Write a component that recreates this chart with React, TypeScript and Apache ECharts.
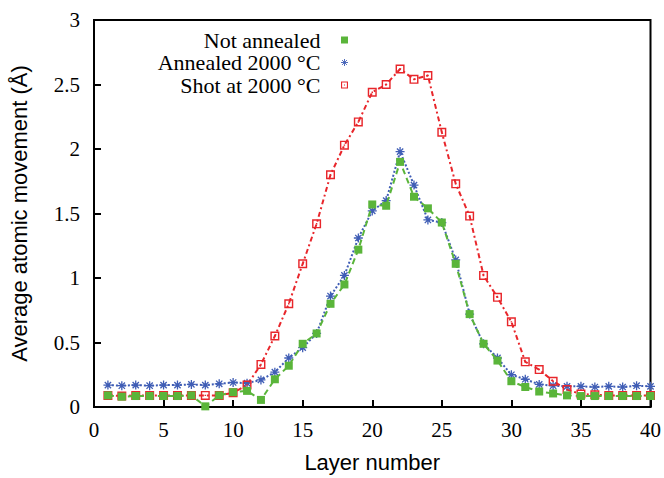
import React, { useEffect, useRef } from "react";
import * as echarts from "echarts";

const layers = Array.from({ length: 40 }, (_, i) => i + 1);
const notAnnealed = [
  0.09, 0.08, 0.085, 0.085, 0.085, 0.085, 0.09, 0.005, 0.09, 0.115,
  0.125, 0.055, 0.215, 0.32, 0.49, 0.57, 0.8, 0.95, 1.22, 1.57,
  1.56, 1.9, 1.63, 1.54, 1.43, 1.11, 0.72, 0.49, 0.36, 0.2,
  0.155, 0.12, 0.105, 0.09, 0.085, 0.085, 0.085, 0.085, 0.085, 0.085,
];
const annealed = [
  0.17, 0.165, 0.17, 0.165, 0.17, 0.17, 0.175, 0.17, 0.18, 0.19,
  0.185, 0.21, 0.27, 0.38, 0.46, 0.57, 0.86, 1.02, 1.31, 1.52,
  1.6, 1.98, 1.72, 1.45, 1.43, 1.14, 0.72, 0.49, 0.38, 0.25,
  0.215, 0.175, 0.165, 0.16, 0.16, 0.155, 0.16, 0.155, 0.165, 0.16,
];
const shot = [
  0.09, 0.085, 0.09, 0.09, 0.09, 0.09, 0.09, 0.09, 0.09, 0.11,
  0.17, 0.33, 0.55, 0.8, 1.11, 1.42, 1.8, 2.03, 2.21, 2.44,
  2.5, 2.62, 2.54, 2.57, 2.13, 1.73, 1.48, 1.02, 0.85, 0.66,
  0.35, 0.29, 0.2, 0.135, 0.1, 0.095, 0.09, 0.09, 0.09, 0.09,
];
const seriesNames = ["Not annealed", "Annealed 2000 °C", "Shot at 2000 °C"];

const GREEN = "#5ab53a";
const BLUE = "#3f5db5";
const RED = "#e8262b";

const ASTERISK =
  "path://M0,5L10,5M5,0L5,10M1.5,1.5L8.5,8.5M8.5,1.5L1.5,8.5";
const OPEN_SQ =
  "path://M0,0L10,0L10,10L0,10Z M1.6,1.6L1.6,8.4L8.4,8.4L8.4,1.6Z M4.2,4.2L5.8,4.2L5.8,5.8L4.2,5.8Z";

export default function App() {
  const ref = useRef<HTMLDivElement>(null);
  useEffect(() => {
    if (!ref.current) return;
    const chart = echarts.init(ref.current, null, { renderer: "svg" });
    const pts = (arr: number[]) => layers.map((l, i) => [l, arr[i]]);
    chart.setOption({
      animation: false,
      backgroundColor: "#fff",
      grid: {
        left: 94,
        right: 13,
        top: 20,
        bottom: 70,
        show: true,
        borderColor: "#000",
        borderWidth: 2,
      },
      legend: {
        orient: "vertical",
        align: "right",
        right: 313.5,
        top: 29,
        padding: 0,
        itemWidth: 7,
        itemHeight: 7,
        itemGap: 0.5,
        textStyle: {
          fontFamily: "Liberation Serif",
          fontSize: 22,
          fontWeight: "normal",
          color: "#000",
          lineHeight: 22,
          padding: [0, 15.5, 0, 0],
        },
        data: [
          { name: seriesNames[0], icon: "rect" },
          {
            name: seriesNames[1],
            icon: ASTERISK,
            itemStyle: { color: "none", borderColor: BLUE, borderWidth: 0.9 },
          },
          { name: seriesNames[2], icon: OPEN_SQ },
        ],
      },
      xAxis: {
        type: "value",
        min: 0,
        max: 40,
        interval: 5,
        name: "Layer number",
        nameLocation: "middle",
        nameGap: 44,
        nameTextStyle: { fontFamily: "Liberation Sans", fontSize: 22, color: "#000" },
        axisLine: { show: true, lineStyle: { color: "#000", width: 2 } },
        axisTick: { show: true, inside: true, length: 7, lineStyle: { color: "#000", width: 2 } },
        axisLabel: { fontFamily: "Liberation Serif", fontSize: 21, color: "#000", margin: 12 },
        splitLine: { show: false },
      },
      yAxis: {
        type: "value",
        min: 0,
        max: 3,
        interval: 0.5,
        name: "Average atomic movement (Å)",
        nameLocation: "middle",
        nameGap: 64,
        nameTextStyle: { fontFamily: "Liberation Sans", fontSize: 22, color: "#000" },
        axisLine: { show: true, lineStyle: { color: "#000", width: 2 } },
        axisTick: { show: true, inside: true, length: 7, lineStyle: { color: "#000", width: 2 } },
        axisLabel: { fontFamily: "Liberation Serif", fontSize: 21, color: "#000", margin: 14 },
        splitLine: { show: false },
      },
      series: [
        {
          name: seriesNames[0],
          type: "line",
          data: pts(notAnnealed),
          symbol: "rect",
          symbolSize: 8,
          itemStyle: { color: GREEN },
          lineStyle: { color: GREEN, width: 2, type: [6, 4] },
          z: 3,
        },
        {
          name: seriesNames[1],
          type: "line",
          data: pts(annealed),
          symbol: ASTERISK,
          symbolSize: 9,
          itemStyle: { color: BLUE, borderColor: BLUE, borderWidth: 1.3 },
          lineStyle: { color: BLUE, width: 2, type: [2, 2] },
          z: 2,
        },
        {
          name: seriesNames[2],
          type: "line",
          data: pts(shot),
          symbol: OPEN_SQ,
          symbolSize: 9,
          itemStyle: { color: RED },
          lineStyle: { color: RED, width: 2, type: [5, 3, 2, 3] },
          z: 2,
        },
      ],
    });
    return () => chart.dispose();
  }, []);
  return <div ref={ref} style={{ width: 664, height: 478, position: "absolute", left: 0, top: 0 }} />;
}
